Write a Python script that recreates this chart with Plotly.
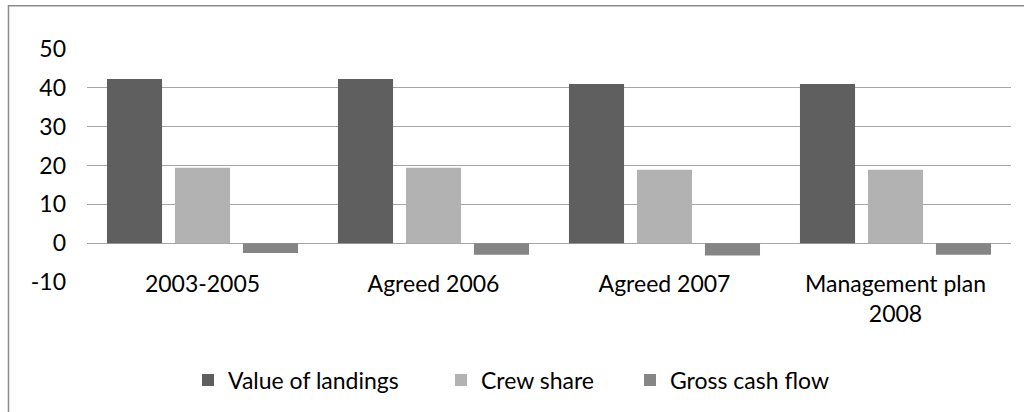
import plotly.graph_objects as go

categories = ["2003-2005", "Agreed 2006", "Agreed 2007", "Management plan<br>2008"]
value_of_landings = [42.3, 42.3, 41.0, 41.0]
crew_share = [19.4, 19.4, 18.9, 18.9]
gross_cash_flow = [-2.5, -3.0, -3.2, -3.0]
y_ticks = [-10, 0, 10, 20, 30, 40, 50]
y_tick_labels = ["-10", "0", "10", "20", "30", "40", "50"]

W, H = 1024, 412
L, R, T, B = 87, 13, 49, 129
pw, ph = W - L - R, H - T - B

def px(x):
    return (x - L) / pw

def py(y):
    return (H - B - y) / ph

FONT = "Lato"
FS = 23
fig = go.Figure()
series = [("Value of landings", value_of_landings, "#5f5f5f", "legend"),
          ("Crew share", crew_share, "#b2b2b2", "legend2"),
          ("Gross cash flow", gross_cash_flow, "#858585", "legend3")]
for name, vals, col, lg in series:
    fig.add_trace(go.Bar(x=categories, y=vals, name=name, marker=dict(color=col, line=dict(width=0)),
                         legend=lg, showlegend=True))

leg_common = dict(orientation="h", yanchor="middle", xanchor="left", y=py(380),
                  font=dict(family=FONT, size=FS, color="#000000"), bgcolor="rgba(0,0,0,0)")
fig.update_layout(
    width=W, height=H,
    showlegend=True,
    margin=dict(l=L, r=R, t=T, b=B, pad=0),
    paper_bgcolor="white", plot_bgcolor="white",
    barmode="group", bargap=0.117, bargroupgap=0.19,
    font=dict(family=FONT, size=FS, color="#000000"),
    legend=dict(x=px(188), **leg_common),
    legend2=dict(x=px(441), **leg_common),
    legend3=dict(x=px(630), **leg_common),
    xaxis=dict(showgrid=False, showline=False, ticks="", ticklabelstandoff=-14,
               tickfont=dict(family=FONT, size=FS, color="#000000")),
    yaxis=dict(range=[-10, 50], tickvals=y_ticks, ticktext=y_tick_labels,
               showgrid=True, gridcolor="#a6a6a6", gridwidth=1,
               zeroline=True, zerolinecolor="#a6a6a6", zerolinewidth=1, showline=False,
               ticks="", ticklabelstandoff=20,
               tickfont=dict(family=FONT, size=FS, color="#000000")),
    shapes=[dict(type="rect", xref="paper", yref="paper",
                 x0=px(8.5), y0=py(430), x1=px(1040), y1=py(5.5),
                 line=dict(color="#8c8c8c", width=1.5), fillcolor="rgba(0,0,0,0)", layer="below")],
)

fig.write_html("out.html")
